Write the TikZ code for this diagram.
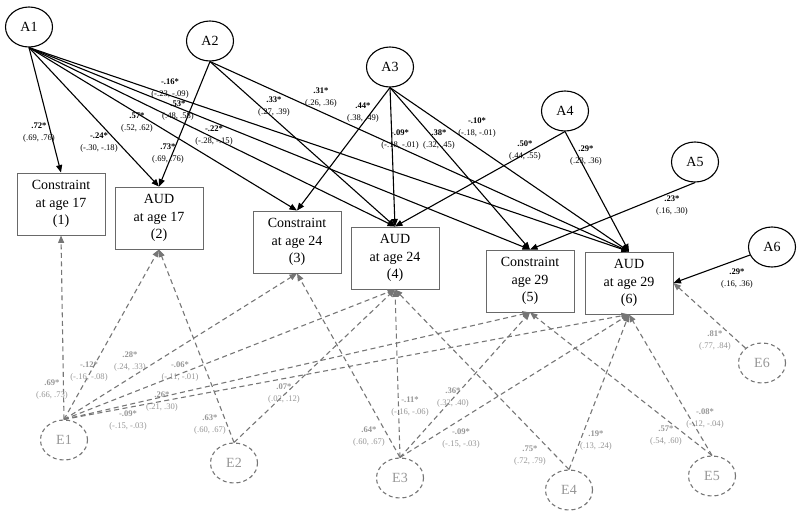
\documentclass[tikz,border=0pt]{standalone}
\usepackage{fontspec}
\setmainfont{Liberation Serif}
\usetikzlibrary{arrows.meta}
\usetikzlibrary{shapes.geometric}
\definecolor{g1}{RGB}{118,118,118}
\definecolor{g2}{RGB}{150,150,150}
\definecolor{b1}{RGB}{105,105,105}

\begin{document}
\begin{tikzpicture}[
    x=1pt, y=-1pt,
    every node/.style={
        font=\fontsize{14}{17.5}\selectfont
    },
    latent/.style={
        ellipse, draw, line width=1.1pt,
        minimum width=47pt, minimum height=40pt, inner sep=0pt
    },
    resid/.style={
        latent, draw=g1, text=g2,
        dash pattern=on 4pt off 3pt
    },
    measure/.style={
        rectangle, draw=b1, line width=0.9pt, align=center,
        minimum width=88pt, minimum height=62pt, inner sep=0pt
    },
    cause/.style={
        line width=1.1pt,
        -{Triangle[length=7.5pt,width=6pt]}
    },
    err/.style={
        line width=1.1pt, draw=g1,
        dash pattern=on 5pt off 3.5pt,
        -{Triangle[length=7.5pt,width=6pt]}
    },
    l/.style={
        align=center, inner sep=0pt,
        font=\fontsize{8.6}{12}\selectfont
    },
    le/.style={
        l, text=g2
    }
]
    \useasboundingbox (0,0) rectangle (800,517);

    % observed measures
    \node [measure] (c17) at (61,204) {Constraint\\at age 17\\(1)};
    \node [measure] (aud17) at (159,218) {AUD\\at age 17\\(2)};
    \node [measure] (c24) at (297,242) {Constraint\\at age 24\\(3)};
    \node [measure] (aud24) at (395,258) {AUD\\at age 24\\(4)};
    \node [measure] (c29) at (530,281) {Constraint\\age 29\\(5)};
    \node [measure] (aud29) at (629,283) {AUD\\at age 29\\(6)};

    % additive genetic factors
    \node [latent] (A1) at (29,27) {A1};
    \node [latent] (A2) at (210,41) {A2};
    \node [latent] (A3) at (390,67) {A3};
    \node [latent] (A4) at (565,111) {A4};
    \node [latent] (A5) at (695,162) {A5};
    \node [latent] (A6) at (772,247) {A6};

    % unique environment factors
    \node [resid] (E1) at (64,440) {E1};
    \node [resid] (E2) at (234,463) {E2};
    \node [resid] (E3) at (400,478) {E3};
    \node [resid] (E4) at (569,490) {E4};
    \node [resid] (E5) at (712,476) {E5};
    \node [resid] (E6) at (762,363) {E6};

    \draw (A1.south)
        edge [cause] (c17.north)
        edge [cause] (aud17.north)
        edge [cause] (c24.north)
        edge [cause] (aud24.north)
        edge [cause] (c29.north)
        edge [cause] (aud29.north);

    \draw (A2.south)
        edge [cause] (aud17.north)
        edge [cause] (aud24.north)
        edge [cause] (aud29.north);

    \draw (A3.south)
        edge [cause] (c24.north)
        edge [cause] (aud24.north)
        edge [cause] (c29.north)
        edge [cause] (aud29.north);

    \draw (A4.south)
        edge [cause] (aud24.north)
        edge [cause] (aud29.north);

    \draw (A5.south) edge [cause] (c29.north);
    \draw (A6) edge [cause] (aud29.east);

    \draw (E1.north)
        edge [err] (c17.south)
        edge [err] (aud17.south)
        edge [err] (c24.south)
        edge [err] (aud24.south)
        edge [err] (c29.south)
        edge [err] (aud29.south);

    \draw (E2.north)
        edge [err] (aud17.south)
        edge [err] (aud24.south);

    \draw (E3.north)
        edge [err] (c24.south)
        edge [err] (aud24.south)
        edge [err] (c29.south)
        edge [err] (aud29.south);

    \draw (E4.north)
        edge [err] (aud24.south)
        edge [err] (aud29.south);

    \draw (E5.north)
        edge [err] (c29.south)
        edge [err] (aud29.south);

    \draw (E6) edge [err] (aud29.east);

    % path estimates, A side
    \node [l] (lA1a) at (39,133) {\textbf{.72*}\\(.69, .76)};
    \node [l] (lA1b) at (99,143) {\textbf{-.24*}\\(-.30, -.18)};
    \node [l] (lA1c) at (137,123) {\textbf{.57*}\\(.52, .62)};
    \node [l] (lA1d) at (214,136) {\textbf{-.22*}\\(-.28, -.15)};
    \node [l] (lA1e) at (178,111) {\textbf{.53*}\\(.48, .58)};
    \node [l] (lA1f) at (170,89) {\textbf{-.16*}\\(-.23, -.09)};
    \node [l] (lA2a) at (168,154) {\textbf{.73*}\\(.69, .76)};
    \node [l] (lA2b) at (274,107) {\textbf{.33*}\\(.27, .39)};
    \node [l] (lA2c) at (321,98) {\textbf{.31*}\\(.26, .36)};
    \node [l] (lA3a) at (363,113) {\textbf{.44*}\\(.38, .49)};
    \node [l] (lA3b) at (400,140) {\textbf{-.09*}\\(-.18, -.01)};
    \node [l] (lA3c) at (439,140) {\textbf{.38*}\\(.32, .45)};
    \node [l] (lA3d) at (477,128) {\textbf{-.10*}\\(-.18, -.01)};
    \node [l] (lA4a) at (525,151) {\textbf{.50*}\\(.44, .55)};
    \node [l] (lA4b) at (586,156) {\textbf{.29*}\\(.23, .36)};
    \node [l] (lA5a) at (672,206) {\textbf{.23*}\\(.16, .30)};
    \node [l] (lA6a) at (737,279) {\textbf{.29*}\\(.16, .36)};

    % path estimates, E side
    \node [le] (lE1a) at (52,390) {\textbf{.69*}\\(.66, .73)};
    \node [le] (lE1b) at (89,372) {\textbf{-.12*}\\(-.16, -.08)};
    \node [le] (lE1c) at (130,362) {\textbf{.28*}\\(.24, .33)};
    \node [le] (lE1d) at (180,372) {\textbf{-.06*}\\(-.11, -.01)};
    \node [le] (lE1e) at (162,402) {\textbf{.26*}\\(.21, .30)};
    \node [le] (lE1f) at (128,421) {\textbf{-.09*}\\(-.15, -.03)};
    \node [le] (lE2a) at (210,425) {\textbf{.63*}\\(.60, .67)};
    \node [le] (lE2b) at (284,394) {\textbf{.07*}\\(.02, .12)};
    \node [le] (lE3a) at (369,437) {\textbf{.64*}\\(.60, .67)};
    \node [le] (lE3b) at (410,407) {\textbf{-.11*}\\(-.16, -.06)};
    \node [le] (lE3c) at (453,398) {\textbf{.36*}\\(.32, .40)};
    \node [le] (lE3d) at (461,439) {\textbf{-.09*}\\(-.15, -.03)};
    \node [le] (lE4a) at (530,456) {\textbf{.75*}\\(.72, .79)};
    \node [le] (lE4b) at (596,441) {\textbf{.19*}\\(.13, .24)};
    \node [le] (lE5a) at (666,436) {\textbf{.57*}\\(.54, .60)};
    \node [le] (lE5b) at (705,419) {\textbf{-.08*}\\(-.12, -.04)};
    \node [le] (lE6a) at (715,341) {\textbf{.81*}\\(.77, .84)};

\end{tikzpicture}
\end{document}
